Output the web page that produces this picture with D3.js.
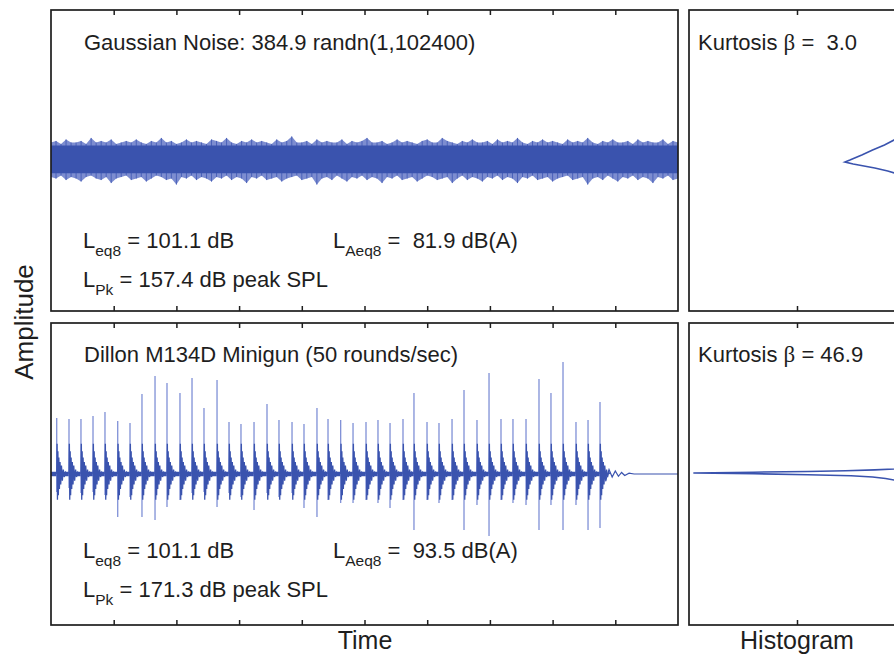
<!DOCTYPE html>
<html><head><meta charset="utf-8">
<script src="https://cdn.jsdelivr.net/npm/d3@7"></script>
<style>
body{margin:0;background:#fff}
svg{display:block}
text{font-family:"Liberation Sans",Arial,Helvetica,sans-serif;fill:#1e1e1e;white-space:pre}
</style>
</head><body>
<svg id="c" width="894" height="656"></svg>
<script>
// ---------------- DATA ----------------
const timeTicks = [1,2,3,4,5,6,7,8,9];
const histTicks = [10];
const panelTitles = ["Gaussian Noise: 384.9 randn(1,102400)", "Dillon M134D Minigun (50 rounds/sec)"];
const kurtosisPre = ["Kurtosis ", "Kurtosis "];
const kurtosisVal = [" =  3.0", " = 46.9"];
const leqValues = ["101.1 dB", "101.1 dB"];
const laeqValues = [" 81.9 dB(A)", " 93.5 dB(A)"];
const lpkValues = ["157.4 dB peak SPL", "171.3 dB peak SPL"];

// Gaussian noise: dense core and jagged envelope (amplitude units, panel = -1..1)
const noiseCore = [-0.085, 0.10];
const noiseUpper = [0.12,0.13,0.11,0.14,0.12,0.12,0.13,0.11,0.15,0.12,0.13,0.12,0.14,0.11,0.12,0.13,0.12,0.14,0.12,0.11,0.13,0.12,0.15,0.12,0.13,0.11,0.12,0.14,0.12,0.13,0.12,0.11,0.14,0.13,0.12,0.15,0.12,0.11,0.13,0.12,0.14,0.12,0.13,0.12,0.11,0.14,0.12,0.13,0.16,0.12,0.12,0.13,0.11,0.14,0.12,0.13,0.12,0.12,0.14,0.11,0.13,0.12,0.13,0.15,0.12,0.12,0.13,0.11,0.12,0.14,0.12,0.13,0.12,0.11,0.13,0.14,0.12,0.12,0.15,0.13,0.12,0.11,0.13,0.12,0.14,0.12,0.12,0.13,0.11,0.14,0.12,0.13,0.12,0.15,0.12,0.11,0.13,0.12,0.14,0.12,0.13,0.12,0.11,0.14,0.12,0.13,0.12,0.15,0.12,0.11,0.13,0.12,0.14,0.12,0.12,0.13,0.11,0.14,0.12,0.13,0.12,0.12,0.14,0.11,0.13,0.12];
const noiseLower = [-0.11,-0.12,-0.10,-0.13,-0.11,-0.12,-0.14,-0.11,-0.10,-0.12,-0.13,-0.11,-0.15,-0.12,-0.11,-0.10,-0.13,-0.12,-0.11,-0.14,-0.12,-0.10,-0.11,-0.13,-0.12,-0.16,-0.11,-0.12,-0.10,-0.13,-0.11,-0.12,-0.14,-0.11,-0.12,-0.10,-0.13,-0.11,-0.12,-0.15,-0.11,-0.12,-0.10,-0.13,-0.12,-0.11,-0.14,-0.12,-0.11,-0.10,-0.13,-0.12,-0.11,-0.16,-0.12,-0.11,-0.13,-0.10,-0.12,-0.14,-0.11,-0.12,-0.10,-0.13,-0.11,-0.12,-0.15,-0.11,-0.12,-0.10,-0.13,-0.12,-0.11,-0.14,-0.12,-0.10,-0.11,-0.13,-0.12,-0.11,-0.15,-0.12,-0.10,-0.13,-0.11,-0.12,-0.14,-0.11,-0.12,-0.10,-0.13,-0.11,-0.12,-0.15,-0.11,-0.12,-0.10,-0.13,-0.12,-0.11,-0.14,-0.12,-0.11,-0.10,-0.13,-0.12,-0.11,-0.16,-0.12,-0.11,-0.13,-0.10,-0.12,-0.14,-0.11,-0.12,-0.10,-0.13,-0.11,-0.12,-0.15,-0.11,-0.12,-0.10,-0.13,-0.12];

// Minigun: shot times (time axis 0..10), peak up and down amplitudes
const shotTimes = [0.091,0.287,0.478,0.670,0.861,1.064,1.260,1.451,1.659,1.850,2.057,2.249,2.440,2.648,2.839,3.030,3.238,3.445,3.636,3.844,4.035,4.242,4.418,4.620,4.817,5.024,5.215,5.407,5.614,5.789,5.997,6.188,6.396,6.587,6.794,6.986,7.177,7.368,7.576,7.783,7.974,8.166,8.373,8.565,8.756];
const shotUp = [0.371,0.364,0.364,0.384,0.411,0.351,0.338,0.530,0.649,0.603,0.536,0.636,0.437,0.623,0.344,0.331,0.344,0.464,0.358,0.344,0.331,0.437,0.364,0.358,0.338,0.344,0.358,0.338,0.364,0.536,0.344,0.338,0.364,0.556,0.358,0.669,0.364,0.364,0.364,0.629,0.536,0.742,0.344,0.358,0.477];
const shotDown = [-0.119,-0.093,-0.126,-0.119,-0.139,-0.285,-0.152,-0.285,-0.305,-0.219,-0.172,-0.126,-0.119,-0.219,-0.126,-0.152,-0.238,-0.126,-0.152,-0.126,-0.225,-0.285,-0.172,-0.192,-0.192,-0.172,-0.192,-0.225,-0.172,-0.371,-0.172,-0.192,-0.172,-0.371,-0.205,-0.411,-0.172,-0.192,-0.205,-0.371,-0.205,-0.371,-0.205,-0.371,-0.358];
// ringing burst after each shot (time offset, relative amplitude)
const burstDt  = [0,0.006,0.012,0.019,0.026,0.034,0.043,0.053,0.064,0.076,0.090,0.105,0.120,0.140,0.160];
const burstRel = [0,1.0,-0.85,0.75,-0.70,0.55,-0.50,0.40,-0.35,0.28,-0.22,0.15,-0.10,0.06,0];
const burstAmp = [0.2];
const gunBaseEnd = [8.80];
const tailTimes = [8.80,8.85,8.90,8.95,9.00,9.05,9.10,9.15,9.22,9.30,10.0];
const tailAmps  = [0.03,-0.04,0.03,-0.02,0.02,-0.015,0.01,-0.01,0.005,0,0];

// Histograms (amplitude, count)
const histNoiseAmp   = [0.30,0.24,0.20,0.17,0.136,0.103,0.07,0.037,0.003,-0.01,-0.023,-0.05,-0.07,-0.083,-0.10,-0.13,-0.17,-0.24,-0.30];
const histNoiseCount = [0,0.02,0.15,0.45,1.02,1.9,3.0,4.0,5.1,5.56,4.8,2.8,1.6,1.0,0.5,0.15,0.03,0.005,0];
const histGunAmp   = [0.9,0.5,0.3,0.2,0.1,0.05,0.033,0.027,0.022,0.017,0.012,0.007,0.002,-0.005,-0.012,-0.02,-0.03,-0.04,-0.06,-0.1,-0.2,-0.35,-0.6];
const histGunCount = [0,0.002,0.01,0.03,0.12,0.35,1.0,2.8,5.5,9,14,19.6,14,9,5,3,1.8,1.0,0.4,0.12,0.03,0.01,0];

// ---------------- LAYOUT ----------------
const svg = d3.select("#c");
const L = {x0:51, x1:678, hx0:689, hx1:905};
const rows = [{y0:10, y1:311, t:40, l1:238, l2:277}, {y0:323, y1:625, t:39, l1:235, l2:274}];
const blue = "#3a53ae", spikeBlue = "#6a7dd0", ink = "#1e1e1e";

const xT = d3.scaleLinear().domain([0,10]).range([L.x0, L.x1]);
const hx = d3.scaleLinear().domain([0,20]).range([L.hx1, L.hx0]);
const yS = rows.map(r => d3.scaleLinear().domain([-1,1]).range([r.y1, r.y0]));

const defs = svg.append("defs");
rows.forEach((r,i)=>{
  defs.append("clipPath").attr("id","cl"+i).append("rect")
    .attr("x",L.x0).attr("y",r.y0).attr("width",L.x1-L.x0).attr("height",r.y1-r.y0);
  defs.append("clipPath").attr("id","cr"+i).append("rect")
    .attr("x",L.hx0).attr("y",r.y0).attr("width",L.hx1-L.hx0).attr("height",r.y1-r.y0);
});

// ---- Gaussian noise ----
const gN = svg.append("g").attr("clip-path","url(#cl0)");
const nN = Math.min(noiseUpper.length, noiseLower.length);
const envData = d3.range(nN).map(i => ({t: i*10/(nN-1), hi: noiseUpper[i], lo: noiseLower[i]}));
gN.append("path").datum(envData)
  .attr("d", d3.area().x(d=>xT(d.t)).y0(d=>yS[0](d.lo)).y1(d=>yS[0](d.hi)))
  .attr("fill", "#5c71c4").attr("opacity",0.8);
gN.selectAll("line.hair").data(envData).join("line")
  .attr("x1",d=>xT(d.t)).attr("x2",d=>xT(d.t))
  .attr("y1",d=>yS[0](d.lo)).attr("y2",d=>yS[0](d.hi))
  .attr("stroke","#4a61b9").attr("stroke-width",1);
gN.append("path").datum([0,10])
  .attr("d", d3.area().x(t=>xT(t)).y0(()=>yS[0](noiseCore[0])).y1(()=>yS[0](noiseCore[1])))
  .attr("fill", blue);

// ---- Minigun ----
const gG = svg.append("g").attr("clip-path","url(#cl1)");
gG.append("line").attr("x1",xT(0)).attr("x2",xT(gunBaseEnd[0]))
  .attr("y1",yS[1](0)).attr("y2",yS[1](0)).attr("stroke",blue).attr("stroke-width",4.5);
gG.append("path").datum(d3.zip(tailTimes, tailAmps))
  .attr("d", d3.line().x(d=>xT(d[0])).y(d=>yS[1](d[1])))
  .attr("fill","none").attr("stroke",blue).attr("stroke-width",1.2);
const shots = shotTimes.map((t,i)=>({t, up:shotUp[i], dn:shotDown[i]}));
gG.selectAll("line.spk").data(shots).join("line")
  .attr("x1",d=>xT(d.t)).attr("x2",d=>xT(d.t))
  .attr("y1",d=>yS[1](d.up)).attr("y2",d=>yS[1](d.dn))
  .attr("stroke",spikeBlue).attr("stroke-width",1.3).attr("opacity",0.85);
const burstLine = d3.line().x(d=>xT(d[0])).y(d=>yS[1](d[1]));
gG.selectAll("path.burst").data(shots).join("path")
  .attr("d", s => burstLine(burstDt.map((dt,k)=>[s.t+dt, burstRel[k]*burstAmp[0]])))
  .attr("fill","none").attr("stroke",blue).attr("stroke-width",1.3);

// ---- Histograms ----
const hData = [d3.zip(histNoiseAmp, histNoiseCount), d3.zip(histGunAmp, histGunCount)];
hData.forEach((hd,i)=>{
  svg.append("g").attr("clip-path","url(#cr"+i+")").append("path").datum(hd)
    .attr("d", d3.line().x(d=>hx(d[1])).y(d=>yS[i](d[0])))
    .attr("fill","none").attr("stroke",blue).attr("stroke-width",1.6);
});

// ---- Frames & ticks ----
rows.forEach((r,i)=>{
  [[L.x0,L.x1,xT,timeTicks],[L.hx0,L.hx1,hx,histTicks]].forEach(([a,b,sc,tv])=>{
    svg.append("rect").attr("x",a).attr("y",r.y0).attr("width",b-a).attr("height",r.y1-r.y0)
      .attr("fill","none").attr("stroke",ink).attr("stroke-width",1.7);
    const top = svg.append("g").attr("transform",`translate(0,${r.y0})`)
      .call(d3.axisBottom(sc).tickValues(tv).tickSize(5).tickFormat(""));
    const bot = svg.append("g").attr("transform",`translate(0,${r.y1})`)
      .call(d3.axisTop(sc).tickValues(tv).tickSize(5).tickFormat(""));
    [top,bot].forEach(g=>{ g.select(".domain").remove(); g.selectAll("line").attr("stroke",ink).attr("stroke-width",1.5); });
  });
});

// ---- Texts ----
const fs = 22, fsub = 15.5;
rows.forEach((r,i)=>{
  svg.append("text").attr("x",84).attr("y",r.y0+r.t).attr("font-size",fs).text(panelTitles[i]);
  const k = svg.append("text").attr("x",698).attr("y",r.y0+r.t).attr("font-size",fs);
  k.append("tspan").text(kurtosisPre[i]);
  k.append("tspan").attr("font-family","'Liberation Serif','Times New Roman',serif").attr("font-size",23).text("\u03b2");
  k.append("tspan").text(kurtosisVal[i]);
  const lrow = (x,y,sub,rest)=>{
    const t = svg.append("text").attr("x",x).attr("y",y).attr("font-size",fs);
    t.append("tspan").text("L");
    t.append("tspan").attr("dy",8).attr("font-size",fsub).text(sub);
    t.append("tspan").attr("dy",-8).text(" = "+rest);
  };
  lrow(83, r.y0+r.l1, "eq8", leqValues[i]);
  lrow(333, r.y0+r.l1, "Aeq8", laeqValues[i]);
  lrow(83, r.y0+r.l2, "Pk", lpkValues[i]);
});
svg.append("text").attr("x",365).attr("y",649).attr("text-anchor","middle").attr("font-size",25).text("Time");
svg.append("text").attr("x",797).attr("y",649).attr("text-anchor","middle").attr("font-size",25).text("Histogram");
svg.append("text").attr("transform","translate(33,322) rotate(-90)").attr("text-anchor","middle").attr("font-size",26).text("Amplitude");
</script>
</body></html>
